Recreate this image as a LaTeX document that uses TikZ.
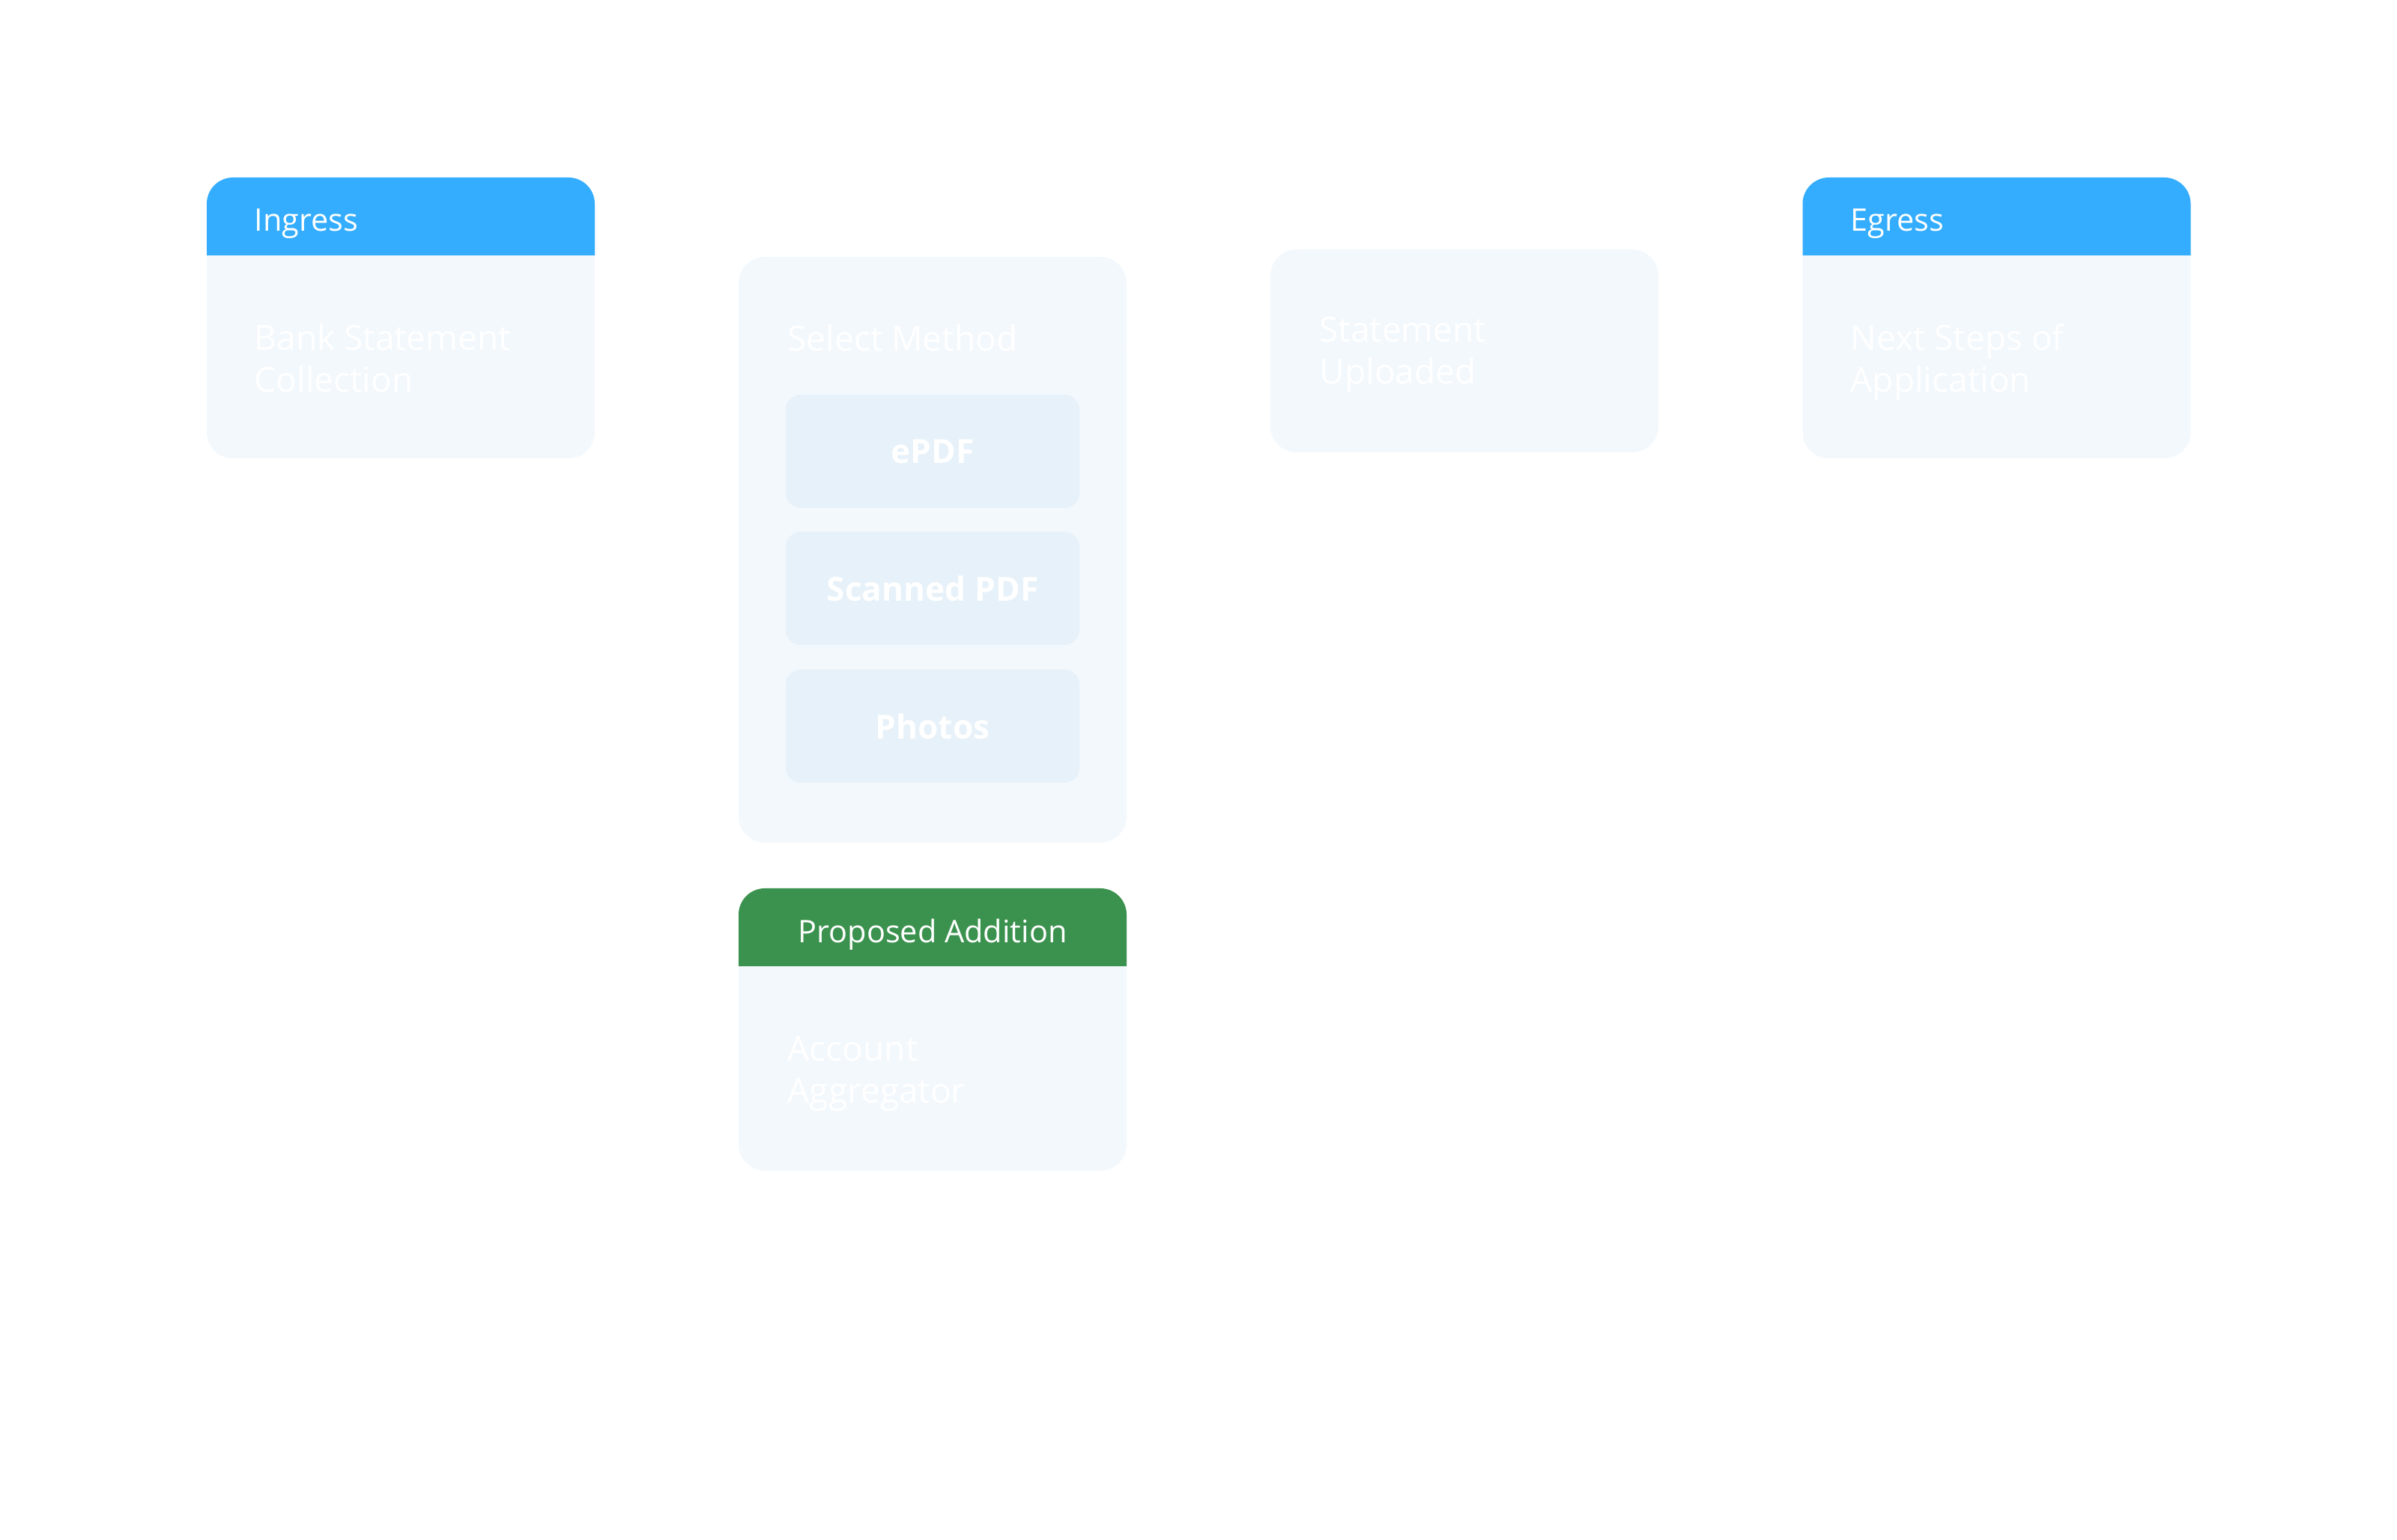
\documentclass[tikz,border=0pt]{standalone}
\usepackage{fontspec}
\setmainfont{Open Sans}
\usetikzlibrary{arrows.meta}
\definecolor{hdrblue}{RGB}{52,173,254}
\definecolor{addgreen}{RGB}{59,146,78}
\definecolor{cardbg}{RGB}{243,248,253}
\definecolor{methodbg}{RGB}{230,241,249}

\begin{document}
\begin{tikzpicture}[
  card/.style={fill=cardbg, rounded corners=0.35cm, minimum width=5.18cm, inner sep=0pt, outer sep=0pt},
  hdtext/.style={anchor=base west, inner sep=0pt, text=white, font=\fontsize{11.8}{14}\selectfont},
  cardtext/.style={anchor=west, text=white, align=left, inner sep=0pt, font=\fontsize{13.1}{15.9}\selectfont, execute at begin node=\strut, execute at end node=\strut},
  method/.style={fill=methodbg, rounded corners=0.2cm, minimum width=3.92cm, minimum height=1.51cm, inner sep=0pt, text=white, font=\bfseries\fontsize{12.6}{15}\selectfont},
  flow/.style={draw=white, line width=0.85pt, -{Straight Barb[length=0.17cm, width=0.30cm]}}
]
  \useasboundingbox (0,0) rectangle (32,-20.56);

  % ingress card
  \node[card, minimum height=3.75cm] (ingress) at (5.35,-4.245) {};
  \fill[hdrblue] ([yshift=-1.04cm]ingress.north west) [rounded corners=0.35cm] -- (ingress.north west) -- (ingress.north east) [sharp corners] -- ([yshift=-1.04cm]ingress.north east) -- cycle;
  \node[hdtext] (ingresshd) at (3.39,-3.09) {Ingress};
  \node[cardtext] (ingresstx) at (3.39,-4.86) {Bank Statement\\Collection};

  % method choice
  \node[card, minimum height=7.82cm] (select) at (12.45,-7.34) {};
  \node[cardtext] (selecttx) at (10.51,-4.57) {Select Method};
  \node[method] (epdf) at (12.45,-6.025) {ePDF};
  \node[method] (scanned) at (12.45,-7.855) {Scanned PDF};
  \node[method] (photos) at (12.45,-9.695) {Photos};

  % upload
  \node[card, minimum height=2.71cm] (stmt) at (19.55,-4.685) {};
  \node[cardtext] (stmttx) at (17.61,-4.76) {Statement\\Uploaded};

  % egress card
  \node[card, minimum height=3.75cm] (egress) at (26.655,-4.245) {};
  \fill[hdrblue] ([yshift=-1.04cm]egress.north west) [rounded corners=0.35cm] -- (egress.north west) -- (egress.north east) [sharp corners] -- ([yshift=-1.04cm]egress.north east) -- cycle;
  \node[hdtext] (egresshd) at (24.70,-3.09) {Egress};
  \node[cardtext] (egresstx) at (24.70,-4.86) {Next Steps of\\Application};

  % proposed addition
  \node[card, minimum height=3.77cm] (aa) at (12.45,-13.745) {};
  \fill[addgreen] ([yshift=-1.04cm]aa.north west) [rounded corners=0.35cm] -- (aa.north west) -- (aa.north east) [sharp corners] -- ([yshift=-1.04cm]aa.north east) -- cycle;
  \node[hdtext, anchor=base] (aahd) at (12.45,-12.59) {Proposed Addition};
  \node[cardtext] (aatx) at (10.51,-14.36) {Account\\Aggregator};

  \node[anchor=base west, inner sep=0pt, text=white, font=\fontsize{18.5}{22}\selectfont] (title) at (2.28,-19.52) {Existing Statement Collection Flow};

  \draw[flow] (ingress.east |- stmt.west) -- (select.west |- stmt.west);
  \draw[flow] (select.east |- stmt.west) -- (stmt.west);
  \draw[flow] (stmt.east) -- (egress.west |- stmt.east);
\end{tikzpicture}
\end{document}
